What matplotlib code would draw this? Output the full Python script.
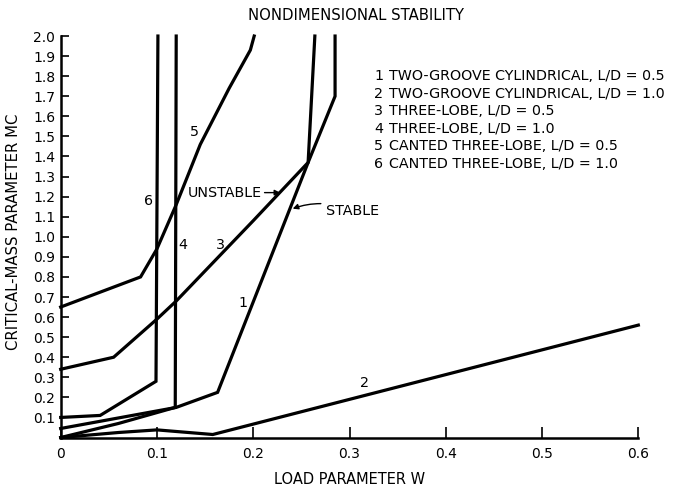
import matplotlib.pyplot as plt
import numpy as np

plt.rcParams['font.family'] = ['DejaVu Sans']

# curves (load parameter W, critical mass MC)
c1_w = [0.0, 0.12, 0.163, 0.257, 0.285, 0.285]
c1_m = [0.045, 0.15, 0.225, 1.37, 1.70, 2.0]
c2_w = [0.0, 0.06, 0.10, 0.158, 0.60]
c2_m = [0.0, 0.025, 0.038, 0.015, 0.56]
c3_w = [0.0, 0.055, 0.10, 0.12, 0.20, 0.257, 0.264]
c3_m = [0.34, 0.40, 0.59, 0.68, 1.08, 1.37, 2.0]
c4_w = [0.0, 0.06, 0.119, 0.12]
c4_m = [0.0, 0.07, 0.15, 2.0]
c5_w = [0.0, 0.083, 0.10, 0.12, 0.145, 0.175, 0.197, 0.201]
c5_m = [0.65, 0.80, 0.94, 1.16, 1.46, 1.74, 1.93, 2.0]
c6_w = [0.0, 0.041, 0.099, 0.101]
c6_m = [0.10, 0.11, 0.28, 2.0]

curves = [(c1_w, c1_m), (c2_w, c2_m), (c3_w, c3_m),
          (c4_w, c4_m), (c5_w, c5_m), (c6_w, c6_m)]
curve_labels = ['1', '2', '3', '4', '5', '6']
label_pos = [(0.189, 0.67), (0.316, 0.27), (0.166, 0.96),
             (0.127, 0.96), (0.139, 1.52), (0.091, 1.18)]

legend_lines = ['TWO-GROOVE CYLINDRICAL, L/D = 0.5',
                'TWO-GROOVE CYLINDRICAL, L/D = 1.0',
                'THREE-LOBE, L/D = 0.5',
                'THREE-LOBE, L/D = 1.0',
                'CANTED THREE-LOBE, L/D = 0.5',
                'CANTED THREE-LOBE, L/D = 1.0']

xticks = [0, 0.1, 0.2, 0.3, 0.4, 0.5, 0.6]
yticks = np.round(np.arange(0.1, 2.01, 0.1), 1)

fs = 10.3

fig = plt.figure(figsize=(6.78, 4.87), dpi=100)
ax = fig.add_axes([0.0895, 0.1016, 0.852, 0.8244])

for w, m in curves:
    ax.plot(w, m, color='black', lw=2.3, solid_joinstyle='miter', clip_on=False)

for lab, (x, y) in zip(curve_labels, label_pos):
    ax.text(x, y, lab, fontsize=fs, ha='center', va='center')

ax.set_xlim(0, 0.6)
ax.set_ylim(0, 2.0)
ax.spines['top'].set_visible(False)
ax.spines['right'].set_visible(False)
ax.spines['left'].set_linewidth(1.8)
ax.spines['bottom'].set_linewidth(1.8)

ax.set_xticks(xticks)
ax.set_xticklabels(['0', '0.1', '0.2', '0.3', '0.4', '0.5', '0.6'])
ax.set_yticks(yticks)
ax.set_yticklabels(['%.1f' % v for v in yticks])
ax.tick_params(axis='x', direction='in', length=8, width=1.2, labelsize=10, pad=7)
ax.tick_params(axis='y', direction='in', length=6, width=1.2, labelsize=10, pad=4)

ax.set_xlabel('LOAD PARAMETER W', fontsize=fs + 0.2, labelpad=8)
ax.set_ylabel('CRITICAL-MASS PARAMETER MC', fontsize=fs + 0.4)
ax.yaxis.set_label_coords(-0.069, 0.512)
fig.text(0.525, 0.968, 'NONDIMENSIONAL STABILITY', fontsize=fs + 0.4, ha='center', va='center')

# legend block as plain text
for i, txt in enumerate(legend_lines):
    y = 1.80 - i * 0.087
    ax.text(0.335, y, str(i + 1), fontsize=fs, ha='right', va='center')
    ax.text(0.341, y, txt, fontsize=fs, ha='left', va='center')

ax.annotate('UNSTABLE', xy=(0.228, 1.22), xytext=(0.132, 1.22),
            fontsize=fs, va='center',
            arrowprops=dict(arrowstyle='-|>', color='black', lw=1, shrinkA=0, shrinkB=0,
                            mutation_scale=8))
ax.annotate('STABLE', xy=(0.241, 1.14), xytext=(0.276, 1.13),
            fontsize=fs, va='center',
            arrowprops=dict(arrowstyle='-|>', color='black', lw=1, shrinkA=2, shrinkB=0,
                            mutation_scale=8, connectionstyle='arc3,rad=0.2'))

fig.savefig('out.png', dpi=100)
